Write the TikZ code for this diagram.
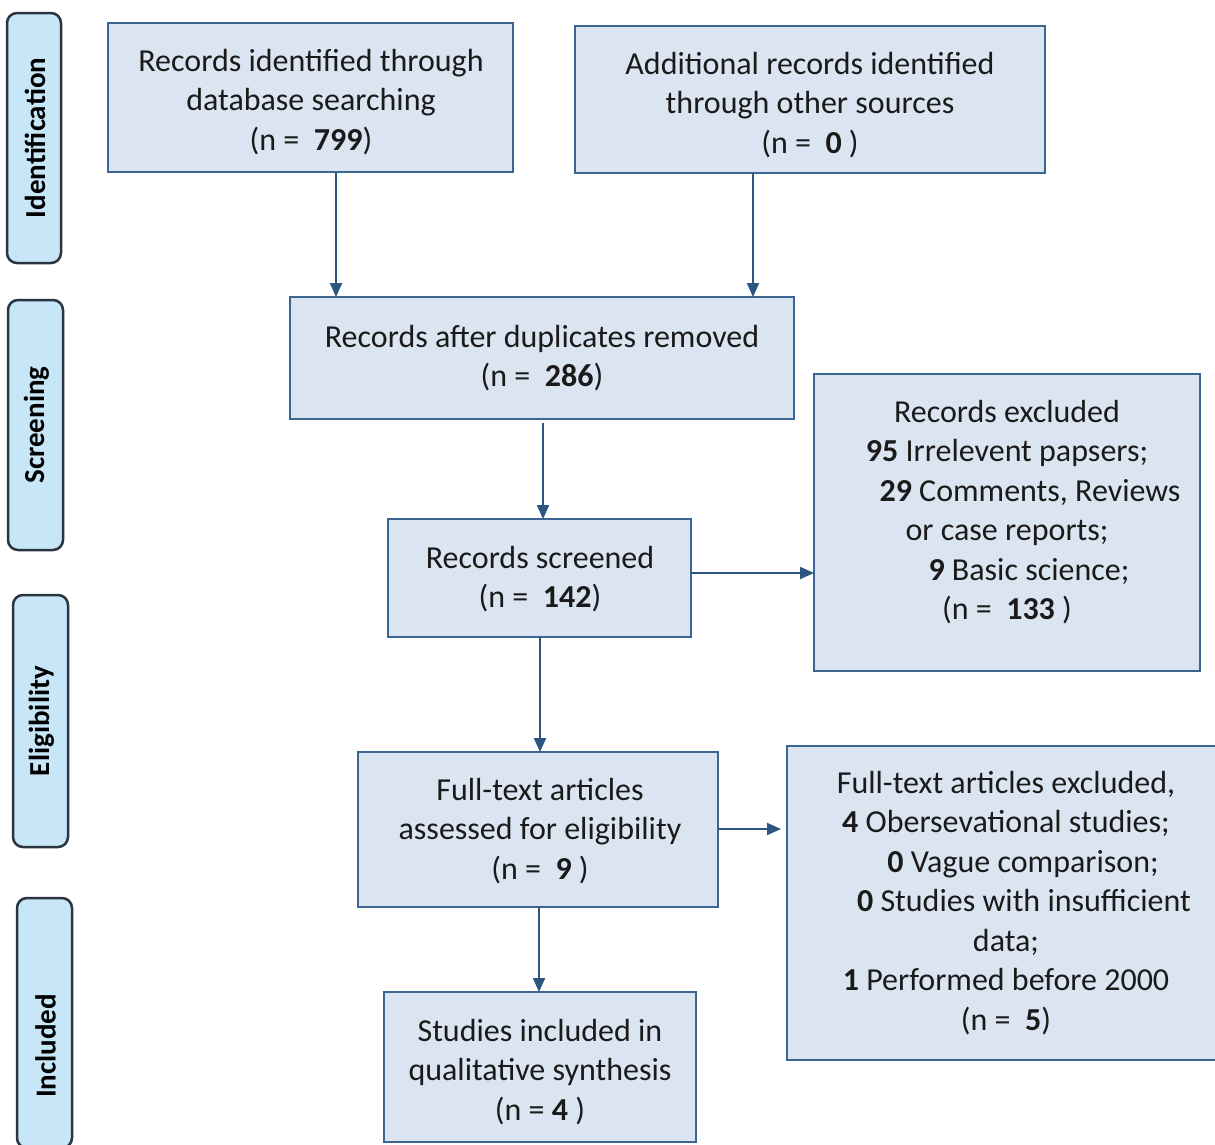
\documentclass[tikz,border=0pt]{standalone}
\usepackage{fontspec}
\setmainfont{Carlito}
\usetikzlibrary{arrows.meta}
\definecolor{boxfill}{HTML}{DBE5F1}
\definecolor{boxline}{HTML}{3C6591}
\definecolor{arrowc}{HTML}{2C5680}
\definecolor{sidefill}{HTML}{C7E6F7}
\definecolor{sideline}{HTML}{2A3540}
\definecolor{txtc}{HTML}{1A1A1A}
\begin{document}
\begin{tikzpicture}[x=1pt,y=-1pt,
  box/.style={draw=boxline, fill=boxfill, line width=2pt, inner sep=0pt, outer sep=0pt, anchor=north west},
  txt/.style={align=center, font=\fontsize{32}{39.5}\selectfont, inner sep=0pt, text=txtc},
  side/.style={draw=sideline, fill=sidefill, line width=2.5pt, rounded corners=10pt, inner sep=0pt, outer sep=0pt, anchor=north west},
  sidetxt/.style={rotate=90, font=\fontsize{29}{33}\selectfont\bfseries, inner sep=0pt, text=black},
  arr/.style={draw=arrowc, line width=2pt, -{Triangle[length=14pt,width=12pt]}}]
\useasboundingbox (0,0) rectangle (1215,1144);
\clip (0,0) rectangle (1215,1144);
\fill[white] (0,0) rectangle (1215,1144);

% side labels
\node[side, minimum width=54pt, minimum height=250pt] (sid) at (7,13) {};
\node[sidetxt] (tid) at ([xshift=1pt]sid.center) {Identification};
\node[side, minimum width=55pt, minimum height=250pt] (ssc) at (8,300) {};
\node[sidetxt] (tsc) at ([xshift=1pt]ssc.center) {Screening};
\node[side, minimum width=55pt, minimum height=252pt] (sel) at (13,595) {};
\node[sidetxt] (tel) at ([xshift=1pt]sel.center) {Eligibility};
\node[side, minimum width=55pt, minimum height=250pt] (sin) at (17,898) {};
\node[sidetxt] (tin) at ([xshift=1pt,yshift=-23pt]sin.center) {Included};

% boxes
\node[box, minimum width=405pt, minimum height=149pt] (b1) at (108,23) {};
\node[box, minimum width=470pt, minimum height=147pt] (b2) at (575,26) {};
\node[box, minimum width=504pt, minimum height=122pt] (b3) at (290,297) {};
\node[box, minimum width=303pt, minimum height=118pt] (b4) at (388,519) {};
\node[box, minimum width=386pt, minimum height=297pt] (b5) at (814,374) {};
\node[box, minimum width=360pt, minimum height=155pt] (b6) at (358,752) {};
\node[box, minimum width=440pt, minimum height=314pt] (b7) at (787,746) {};
\node[box, minimum width=312pt, minimum height=150pt] (b8) at (384,992) {};

% texts
\node[txt] (t1) at (311,102) {Records identified through\\database searching\\(n =\ \ \textbf{799})};
\node[txt] (t2) at (810,105) {Additional records identified\\through other sources\\(n =\ \ \textbf{0}\ )};
\node[txt] (t3) at (542,358) {Records after duplicates removed\\(n =\ \ \textbf{286})};
\node[txt] (t4) at (540,579) {Records screened\\(n =\ \ \textbf{142})};
\node[txt] (t5) at (1007,512) {Records excluded\\\textbf{95} Irrelevent papsers;\\\hspace*{46pt}\textbf{29} Comments, Reviews\\or case reports;\\\hspace*{44pt}\textbf{9} Basic science;\\(n =\ \ \textbf{133}\ )};
\node[txt] (t6) at (540,831) {Full-text articles\\assessed for eligibility\\(n =\ \ \textbf{9}\ )};
\node[txt] (t7) at (1006,903) {Full-text articles excluded,\\\textbf{4} Obersevational studies;\\\hspace*{34pt}\textbf{0} Vague comparison;\\\hspace*{36pt}\textbf{0} Studies with insufficient\\data;\\\textbf{1} Performed before 2000\\(n =\ \ \textbf{5})};
\node[txt] (t8) at (540,1072) {Studies included in\\qualitative synthesis\\(n = \textbf{4}\ )};

% connectors
\coordinate (x1) at (336,0);
\coordinate (x2) at (753,0);
\coordinate (x3) at (543,0);
\coordinate (x4) at (540,0);
\coordinate (x5) at (539,0);
\coordinate (y1) at (0,573);
\coordinate (y2) at (0,829);
\draw[arr] (x1 |- b1.south) -- (x1 |- b3.north);
\draw[arr] (x2 |- b2.south) -- (x2 |- b3.north);
\draw[arr, shorten <=4pt] (x3 |- b3.south) -- (x3 |- b4.north);
\draw[arr] (b4.east |- y1) -- (b5.west |- y1);
\draw[arr] (x4 |- b4.south) -- (x4 |- b6.north);
\draw[arr, shorten >=6pt] (b6.east |- y2) -- (b7.west |- y2);
\draw[arr] (x5 |- b6.south) -- (x5 |- b8.north);
\end{tikzpicture}
\end{document}
